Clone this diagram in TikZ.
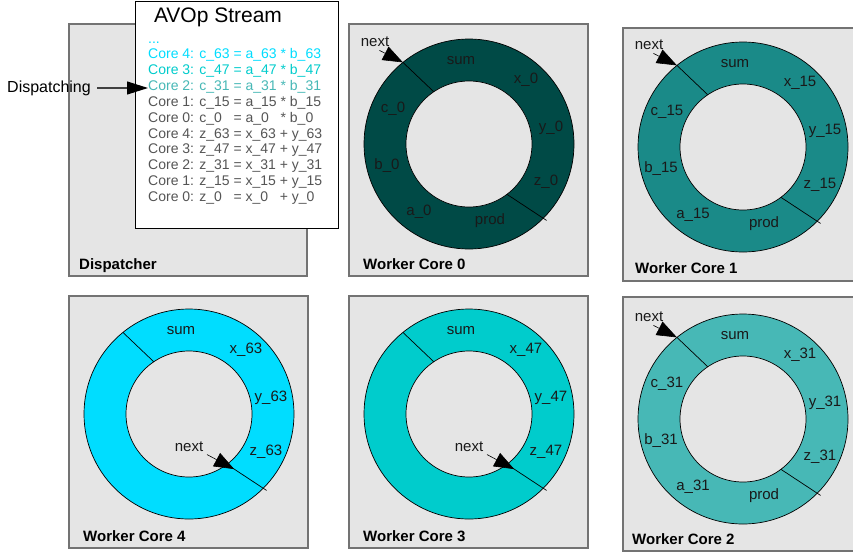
\documentclass[tikz,border=0pt]{standalone}
\usepackage{fontspec}
\setmainfont{Liberation Sans}
\usetikzlibrary{arrows.meta,calc}

\definecolor{panelgray}{HTML}{E5E5E5}
\definecolor{core0col}{HTML}{004A46}
\definecolor{core1col}{HTML}{1A8A88}
\definecolor{core2col}{HTML}{47B8B6}
\definecolor{core3col}{HTML}{00CCCC}
\definecolor{core4col}{HTML}{00DDFF}
\definecolor{optxt}{HTML}{555555}

\begin{document}
\begin{tikzpicture}[
  x=1pt,y=-1pt,
  panel/.style={rectangle,draw=black!55,fill=panelgray,line width=1.1pt,anchor=north west,inner sep=0pt,outer sep=0pt},
  streambox/.style={rectangle,draw=black,fill=white,line width=0.8pt,anchor=north west,inner sep=0pt,outer sep=0pt},
  ptitle/.style={anchor=base west,inner sep=0pt,font=\fontsize{15}{18}\selectfont\bfseries},
  optext/.style={anchor=base west,inner sep=0pt,font=\fontsize{14}{16}\selectfont},
  ring/.style={circle,draw=black,line width=0.7pt,minimum size=210pt,inner sep=0pt,outer sep=0pt},
  hole/.style={circle,draw=black,fill=panelgray,line width=0.7pt,minimum size=126pt,inner sep=0pt,outer sep=0pt},
  slot/.style={inner sep=1pt,font=\fontsize{15}{18}\selectfont,text=black!90},
  divider/.style={draw=black,line width=0.7pt},
  nextarrow/.style={-{Triangle[length=20pt,width=15pt,color=black]},draw=black,line width=0.6pt},
  disparrow/.style={-{Triangle[length=21pt,width=13pt,color=black]},draw=black!75,line width=1.1pt},
]
\useasboundingbox (0,0) rectangle (853,552);
\clip (0,0) rectangle (853,552);

%% ------------------------------------------------------------ dispatcher
\node[panel,minimum width=238pt,minimum height=252pt] (dpanel) at (69,24) {};
\node[ptitle] (dtitle) at (79,269) {Dispatcher};

%% ------------------------------------------------------------ AVOp stream
\node[streambox,minimum width=203pt,minimum height=227pt] (stream) at (135,1) {};
\node[font=\fontsize{21}{24}\selectfont] (streamtitle) at (218,17) {AVOp Stream};
\node[optext,text=core4col] (opdots) at (148,43) {...};
\foreach \ltxt/\lcol [count=\li from 0] in {
  {Core 4: c\_63 = a\_63 * b\_63}/core4col,
  {Core 3: c\_47 = a\_47 * b\_47}/core3col,
  {Core 2: c\_31 = a\_31 * b\_31}/core2col,
  {Core 1: c\_15 = a\_15 * b\_15}/optxt,
  {Core 0: c\_0\phantom{5} = a\_0\phantom{5} * b\_0}/optxt,
  {Core 4: z\_63 = x\_63 + y\_63}/optxt,
  {Core 3: z\_47 = x\_47 + y\_47}/optxt,
  {Core 2: z\_31 = x\_31 + y\_31}/optxt,
  {Core 1: z\_15 = x\_15 + y\_15}/optxt,
  {Core 0: z\_0\phantom{5} = x\_0\phantom{5} + y\_0}/optxt}{
  \node[optext,text=\lcol] (op\li) at (148,58.5+15.9*\li) {\ltxt};
}
\node[font=\fontsize{16}{19}\selectfont] (dispatching) at (49,88) {Dispatching};
\draw[disparrow,shorten <=3pt] (dispatching.east) -- (dispatching.east -| op2.west);

%% ------------------------------------------------------------ worker panels
\foreach \wid/\px/\py/\pw/\ph/\tx/\ty in {0/349/24/239/252/363/269,
    1/623/28/240/253/635/273, 2/623/297/240/254/632/544,
    3/349/296/239/252/363/541, 4/69/296/239/252/83/541}{
  \node[panel,minimum width=\pw pt,minimum height=\ph pt] (wpanel\wid) at (\px,\py) {};
  \node[ptitle] (wtitle\wid) at (\tx,\ty) {Worker Core \wid};
}

%% ------------------------------------------------------------ ring buffers
\foreach \wid/\wn/\wx/\wy/\wcol in {0/0/469/144/core0col,1/15/743/147/core1col,
    2/31/743/419/core2col,3/47/469/414/core3col,4/63/189/414/core4col}{
  \node[ring,fill=\wcol] (ring\wid) at (\wx,\wy) {};
  \node[hole] (hole\wid) at (\wx,\wy) {};
  \draw[divider] (hole\wid.124) -- (ring\wid.129);
  \draw[divider,shorten >=-4pt] (hole\wid.-53) -- (ring\wid.-45);
  \node[slot] (sum\wid) at (\wx-8,\wy-83) {sum};
  \node[slot] (x\wid) at (\wx+57,\wy-64) {x\_\wn};
  \node[slot] (y\wid) at (\wx+82,\wy-16) {y\_\wn};
  \node[slot] (z\wid) at (\wx+77,\wy+38) {z\_\wn};
}
% product slots, next pointer at the top
\foreach \wid/\wn/\wx/\wy in {0/0/469/144,1/15/743/147,2/31/743/419}{
  \node[slot] (prod\wid) at (\wx+21,\wy+77) {prod};
  \node[slot] (a\wid) at (\wx-50,\wy+68) {a\_\wn};
  \node[slot] (b\wid) at (\wx-82,\wy+22) {b\_\wn};
  \node[slot] (c\wid) at (\wx-76,\wy-35) {c\_\wn};
  \node[slot] (next\wid) at (\wx-94,\wy-102) {next};
  \draw[nextarrow,shorten <=5pt] (next\wid.south) -- (ring\wid.129);
}
% next pointer waiting at the sum slot
\foreach \wid/\wx/\wy in {3/469/414,4/189/414}{
  \node[slot] (next\wid) at (\wx,\wy+33) {next};
  \draw[nextarrow,shorten <=3pt] (next\wid.south east) -- ($(hole\wid.-53)!0.2!(ring\wid.-45)$);
}

\end{tikzpicture}
\end{document}
